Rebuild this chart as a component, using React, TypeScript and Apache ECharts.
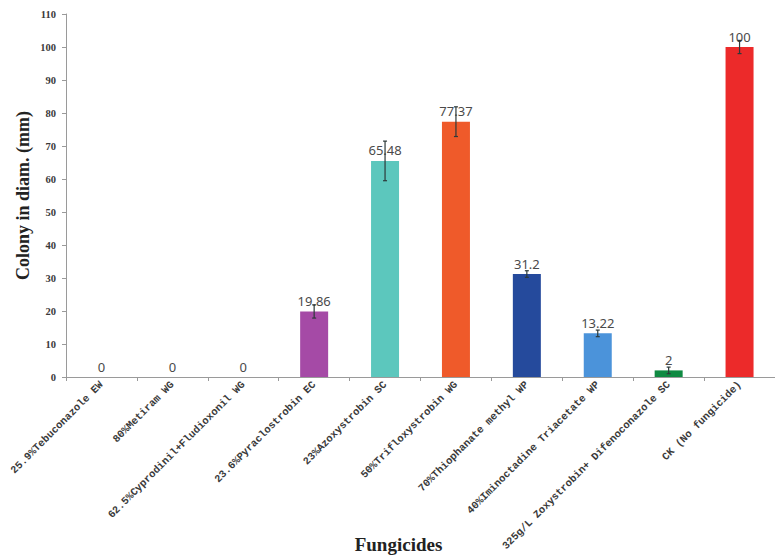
import React, { useEffect, useRef } from "react";
import * as echarts from "echarts";

const categories = [
  "25.9%Tebuconazole EW",
  "80%Metiram WG",
  "62.5%Cyprodinil+Fludioxonil WG",
  "23.6%Pyraclostrobin EC",
  "23%Azoxystrobin SC",
  "50%Trifloxystrobin WG",
  "70%Thiophanate methyl WP",
  "40%Iminoctadine Triacetate WP",
  "325g/L Zoxystrobin+ Difenoconazole SC",
  "CK (No fungicide)",
];
const values = [0, 0, 0, 19.86, 65.48, 77.37, 31.2, 13.22, 2, 100];
const errors = [0, 0, 0, 2, 6, 4.5, 1, 1, 1, 2];
const colors = [
  "#999999",
  "#999999",
  "#999999",
  "#A54AA6",
  "#5CC7BD",
  "#EF5A2A",
  "#254A9C",
  "#4B93DA",
  "#0F8A42",
  "#EC2A2A",
];
const yTicks = { min: 0, max: 110, interval: 10 };

export default function App() {
  const ref = useRef<HTMLDivElement>(null);
  useEffect(() => {
    document.body.style.margin = "0";
    const chart = echarts.init(ref.current!, null, { renderer: "svg" });
    chart.setOption({
      animation: false,
      grid: { left: 66, right: 0, top: 14, bottom: 181, containLabel: false, outerBoundsMode: "none" },
      xAxis: {
        type: "category",
        data: categories,
        name: "Fungicides",
        nameLocation: "middle",
        nameGap: 158,
        nameMoveOverlap: false,
        nameTextStyle: {
          fontFamily: "Liberation Serif",
          fontWeight: "bold",
          fontSize: 19,
          color: "#222",
          padding: [0, 44, 0, 0],
        },
        axisLine: { lineStyle: { color: "#9a9a9a" } },
        axisTick: { show: true, alignWithLabel: false, lineStyle: { color: "#9a9a9a" }, length: 4 },
        axisLabel: {
          rotate: 45,
          interval: 0,
          margin: 6,
          fontFamily: "Liberation Mono",
          fontSize: 10.5,
          fontWeight: "bold",
          color: "#3a3a3a",
        },
      },
      yAxis: {
        type: "value",
        min: yTicks.min,
        max: yTicks.max,
        interval: yTicks.interval,
        name: "Colony in diam. (mm)",
        nameLocation: "middle",
        nameGap: 34,
        nameMoveOverlap: false,
        nameTextStyle: {
          fontFamily: "Liberation Serif",
          fontWeight: "bold",
          fontSize: 18,
          color: "#222",
        },
        splitLine: { show: false },
        axisLine: { show: true, lineStyle: { color: "#9a9a9a" } },
        axisTick: { show: true, length: 4, lineStyle: { color: "#9a9a9a" } },
        axisLabel: {
          fontFamily: "Liberation Serif",
          fontWeight: "bold",
          fontSize: 10.5,
          color: "#3a3a3a",
          margin: 10,
        },
      },
      series: [
        {
          type: "bar",
          data: values.map((v, i) => ({ value: v, itemStyle: { color: colors[i] } })),
          barWidth: 28,
          label: {
            show: true,
            position: "top",
            distance: 4,
            fontFamily: "Noto Sans",
            fontSize: 13,
            color: "#4a4a4a",
          },
        },
        {
          type: "custom",
          data: values.map((v, i) => [i, v, errors[i]]),
          z: 10,
          renderItem: (params: any, api: any) => {
            const i = api.value(0);
            const v = api.value(1);
            const e = api.value(2);
            if (!e) return null;
            const hi = api.coord([i, v + e]);
            const lo = api.coord([i, v - e]);
            const cap = 2;
            const style = { stroke: "#2d3a3a", lineWidth: 1.2 };
            return {
              type: "group",
              children: [
                { type: "line", shape: { x1: hi[0], y1: hi[1], x2: lo[0], y2: lo[1] }, style },
                { type: "line", shape: { x1: hi[0] - cap, y1: hi[1], x2: hi[0] + cap, y2: hi[1] }, style },
                { type: "line", shape: { x1: lo[0] - cap, y1: lo[1], x2: lo[0] + cap, y2: lo[1] }, style },
              ],
            };
          },
        },
      ],
    });
    return () => chart.dispose();
  }, []);
  return <div ref={ref} style={{ width: 775, height: 558 }} />;
}
